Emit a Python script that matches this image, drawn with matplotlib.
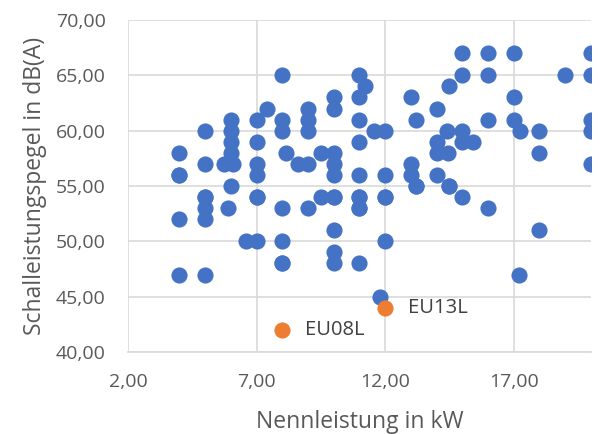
import matplotlib.pyplot as plt
from matplotlib.ticker import FuncFormatter

# Nennleistung (kW) / Schallleistungspegel (dB(A))
leistung = [
    4, 4, 4, 4, 4,
    5, 5, 5, 5, 5, 5, 5,
    5.75, 5.9, 6, 6, 6, 6, 6, 6.1,
    6.6, 7, 7, 7, 7, 7, 7, 7, 7.4,
    8, 8, 8, 8.15, 8, 8, 8, 8,
    8.6, 9, 9, 9, 9, 9,
    9.5, 9.5, 10, 10, 10, 10, 10, 10, 10, 10, 10, 10,
    11, 11, 11, 11.2, 11, 11, 11, 11, 11, 11, 11, 11.8,
    11.55, 12, 12, 12, 12, 12,
    13, 13.2, 13, 13, 13.2, 13.2, 14, 14, 14, 14, 14.45, 14.4, 14.5, 14.5, 14.5,
    15, 15, 15, 15, 15.4, 15,
    16, 16, 16, 16,
    17, 17, 17, 17.25, 17.2,
    18, 18, 18,
    19, 20, 20, 20, 20, 20,
]
pegel = [
    58, 56, 52, 47, 56,
    60, 57, 54, 53, 52, 47, 54,
    57, 53, 61, 60, 59, 58, 55, 57,
    50, 61, 59, 57, 56, 54, 54, 50, 62,
    65, 61, 60, 58, 53, 50, 48, 48,
    57, 62, 61, 60, 57, 53,
    58, 54, 63, 62, 58, 57, 56, 54, 54, 51, 49, 48,
    65, 63, 61, 64, 59, 56, 54, 53, 48, 54, 53, 45,
    60, 60, 56, 54, 50, 54,
    63, 61, 57, 56, 55, 55, 62, 59, 58, 56, 58, 60, 64, 55, 55,
    67, 65, 60, 59, 59, 54,
    67, 65, 61, 53,
    67, 63, 61, 60, 47,
    60, 58, 51,
    65, 67, 65, 61, 60, 57,
]

# highlighted units
mark_names = ["EU08L", "EU13L"]
mark_leistung = [8, 12]
mark_pegel = [42, 44]

blue = "#4472C4"
orange = "#ED7D31"
txt = "#595959"

plt.rcParams["font.family"] = ["Open Sans", "DejaVu Sans"]

fig = plt.figure(figsize=(6.05, 4.34), dpi=100)
ax = fig.add_axes([0.2116, 0.189, 0.765, 0.765])

ax.scatter(leistung, pegel, s=135, color=blue, linewidths=0, zorder=3)
ax.scatter(mark_leistung, mark_pegel, s=135, color=orange, linewidths=0, zorder=3)
for name, x, y in zip(mark_names, mark_leistung, mark_pegel):
    ax.annotate(name, (x, y), xytext=(16.5, 0), textcoords="offset points",
                va="center", ha="left", fontsize=14.5, color="#404040")

ax.set_xlim(2, 20)
ax.set_ylim(40, 70)
ax.set_xticks([2, 7, 12, 17])
ax.set_yticks(range(40, 71, 5))
fmt = FuncFormatter(lambda v, p: f"{v:.2f}".replace(".", ","))
ax.xaxis.set_major_formatter(fmt)
ax.yaxis.set_major_formatter(fmt)

ax.grid(True, color="#d9d9d9", linewidth=1.2, zorder=0)
ax.set_axisbelow(True)
for side in ["top", "right", "left"]:
    ax.spines[side].set_visible(False)
ax.spines["bottom"].set_color("#d9d9d9")
ax.spines["bottom"].set_linewidth(1.2)
ax.tick_params(length=0, labelsize=14, colors=txt)
ax.tick_params(axis="y", pad=16)
ax.tick_params(axis="x", pad=15)

ax.set_xlabel("Nennleistung in kW", fontsize=16.5, color=txt, labelpad=14)
ax.set_ylabel("Schalleistungspegel in dB(A)", fontsize=16.5, color=txt, labelpad=6)

fig.savefig("out.png", dpi=100)
